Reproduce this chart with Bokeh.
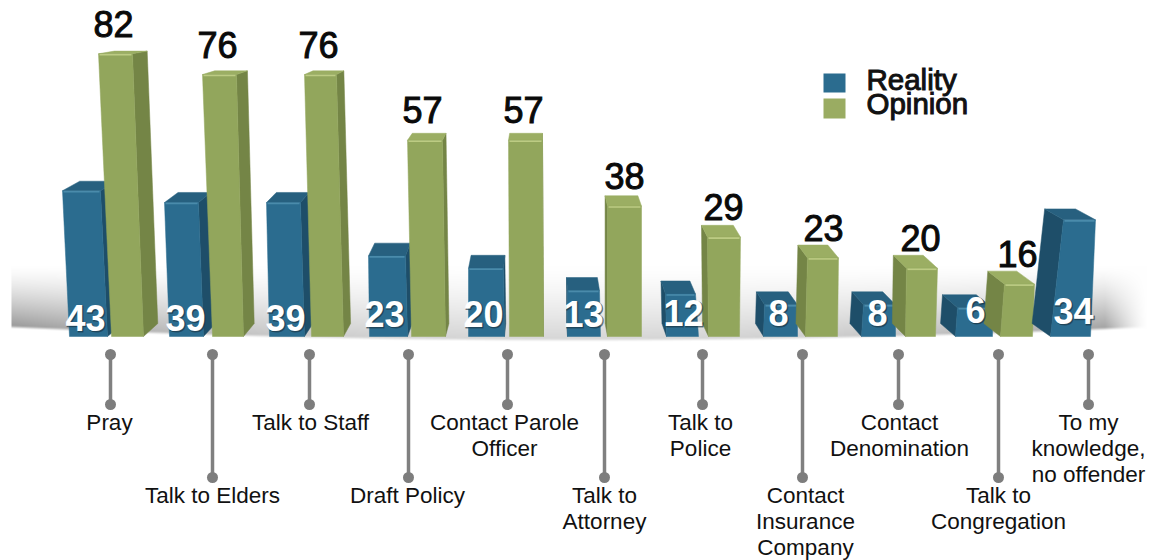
import numpy as np
from bokeh.embed import file_html
from bokeh.models import Range1d
from bokeh.plotting import figure
from bokeh.resources import INLINE
from bokeh.core.properties import value

# ---------- data ----------
categories = [
    ["Pray"], ["Talk to Elders"], ["Talk to Staff"], ["Draft Policy"],
    ["Contact Parole", "Officer"], ["Talk to", "Attorney"], ["Talk to", "Police"],
    ["Contact", "Insurance", "Company"], ["Contact", "Denomination"],
    ["Talk to", "Congregation"], ["To my", "knowledge,", "no offender"],
]
reality = [43, 39, 39, 23, 20, 13, 12, 8, 8, 6, 34]
opinion = [82, 76, 76, 57, 57, 38, 29, 23, 20, 16]
series_names = ["Reality", "Opinion"]

# ---------- layout (image pixels) ----------
W, H = 1152, 560
BASE, PER_UNIT = 337.0, 3.46
VP_X, CX, CY, DY_MAX = 540.0, 0.036, 0.05, 13.0
BOTTOM = 336.0
SHIFT = 0.39  # the text baseline sits this many em lower than asked for

blue_tl = [62, 164, 266, 368, 468, 567, 665, 764, 863, 957, 1063]
blue_tr = [100, 198, 300, 405, 503, 599, 695, 797, 895, 992, 1095]
blue_bl = [69, 169, 269, 369, 468, 567, 666, 763, 861, 955, 1050]
blue_br = [107, 203, 304, 407, 504, 600, 698, 797, 895, 992, 1090]
blue_lift = [-2, 0, 0, 2, 0, 2, 2, 5, 5, 9, 0]
green_tl = [98, 202, 304, 407, 508, 607, 707, 807, 906, 1004]
green_tr = [132, 236, 336, 442, 542, 641, 740, 838, 937, 1034]
green_bl = [111, 212, 311, 411, 509, 607, 708, 805, 905, 1000]
green_br = [143, 243, 343, 445, 543, 641, 739, 837, 935, 1032]
green_lift = [0, 0, 0, 0, 0, 0, 0, 0, 0, -2]

stem_x = [110, 212, 309, 408, 507, 604, 702, 802, 898, 998, 1088]
stem_long = [0, 1, 0, 1, 0, 1, 0, 1, 0, 1, 0]
label_x = [109, 212, 310, 407, 504, 604, 700, 805, 899, 998, 1088]
white_x = [85, 185, 285, 384, 483, 583, 683, 778, 877, 975, 1073]
white_base = [332, 332, 332, 328, 328, 328, 327, 327, 327, 324, 325]
green_x = [113, 217, 318, 422, 523, 624, 723, 823, 920, 1017]

BLUE = dict(front="#2b6c8f", side="#1e4e69", top="#27607f", hi="#4a8bab")
GREEN = dict(front="#92a65c", side="#748546", top="#9bae63", hi="#bccb83")
FONT = value("Liberation Sans")


def val(py):
    return (BASE - py) / PER_UNIT


def py_of(v):
    return BASE - v * PER_UNIT


p = figure(width=W, height=H, output_backend="svg", toolbar_location=None,
           x_range=Range1d(0, W), y_range=Range1d(val(H), val(0)),
           min_border=0, background_fill_color="white", border_fill_color="white")
p.axis.visible = False
p.grid.visible = False
p.outline_line_color = None

# ---------- floor shadow ----------
sx0, sx1, sy0, sy1 = 11, 1146, 262, 345
xx, yy = np.meshgrid(np.arange(sx0, sx1), np.arange(sy1, sy0, -1))
bot = 340 - 13 * ((xx - 578) / 567.0) ** 2
t = np.clip((yy - 266) / (bot - 266), 0, 1)
edge = np.abs(xx - 578) / 567.0
strength = 0.16 + 0.24 * edge ** 2.2
fade = np.clip((1146 - xx) / 42.0, 0, 1) ** 1.4
cut = np.clip((bot + 1.5 - yy) / 3.0, 0, 1)
dark = strength * t ** 1.4 * fade * cut
grey = (255 * (1 - dark)).astype(np.uint32)
img = (255 << 24) | (grey << 16) | (grey << 8) | grey
p.image_rgba(image=[img.astype(np.uint32)], x=sx0, y=val(sy1), dw=sx1 - sx0, dh=val(sy0) - val(sy1))


# ---------- 3D bars ----------
def back(x, y):
    return x + (VP_X - x) * CX, y - min(y * CY, DY_MAX)


def draw_bar(v, lift, tl, tr, bl, br, c):
    ytop = py_of(v) - lift
    xs, ys, colors = [], [], []

    def add(pts, col):
        xs.append([q[0] for q in pts])
        ys.append([val(q[1]) for q in pts])
        colors.append(col)

    if (tl + tr) / 2 < VP_X:
        add([(tr, ytop), back(tr, ytop), back(br, BOTTOM), (br, BOTTOM)], c["side"])
    else:
        add([(tl, ytop), back(tl, ytop), back(bl, BOTTOM), (bl, BOTTOM)], c["side"])
    add([(tl, ytop), (tr, ytop), back(tr, ytop), back(tl, ytop)], c["top"])
    add([(tl, ytop), (tr, ytop), (br, BOTTOM), (bl, BOTTOM)], c["front"])
    p.patches(xs, ys, fill_color=colors, line_color=colors, line_width=0.5)
    p.segment(tl + 1, val(ytop + 1), tr - 1, val(ytop + 1), line_color=c["hi"], line_width=1.6)


for i in range(len(reality)):
    draw_bar(reality[i], blue_lift[i], blue_tl[i], blue_tr[i], blue_bl[i], blue_br[i], BLUE)
    if i < len(opinion):
        draw_bar(opinion[i], green_lift[i], green_tl[i], green_tr[i], green_bl[i], green_br[i], GREEN)

# ---------- value labels ----------
p.text(green_x, [v + (18.5 + green_lift[i]) / PER_UNIT for i, v in enumerate(opinion)],
       text=[str(v) for v in opinion], text_font=FONT, text_font_size="36px",
       text_color="#0a0a0a", text_align="center", text_baseline="alphabetic",
       text_outline_color="#0a0a0a", y_offset=2.5 - 36 * SHIFT)
white_y = [val(b) for b in white_base]
p.text(white_x, white_y, text=[str(v) for v in reality], text_font=FONT,
       text_font_size="36px", text_font_style="bold", text_color="#1b3442", text_alpha=0.55,
       text_align="center", text_baseline="alphabetic", x_offset=1, y_offset=1 - 36 * SHIFT,
       text_outline_color="#1b3442")
p.text(white_x, white_y, text=[str(v) for v in reality], text_font=FONT,
       text_font_size="36px", text_font_style="bold", text_color="white",
       text_align="center", text_baseline="alphabetic", y_offset=-36 * SHIFT)

# ---------- stems ----------
Y_TOP, Y_SHORT, Y_LONG = 354, 404, 477
y_end = [Y_LONG if s else Y_SHORT for s in stem_long]
p.segment(stem_x, val(Y_TOP), stem_x, [val(y) for y in y_end], line_color="#808080", line_width=3.5)
p.scatter(stem_x, val(Y_TOP), size=11, fill_color="#7d7d7d", line_color=None)
p.scatter(stem_x, [val(y) for y in y_end], size=11, fill_color="#7d7d7d", line_color=None)

# ---------- category labels ----------
lx, ly, lt = [], [], []
for i, lines in enumerate(categories):
    first = 503 if stem_long[i] else 430
    for j, line in enumerate(lines):
        lx.append(label_x[i])
        ly.append(val(first + j * 26))
        lt.append(line)
p.text(lx, ly, text=lt, text_font=FONT, text_font_size="22.5px", text_color="#111111",
       text_align="center", text_baseline="alphabetic", y_offset=1 - 22.5 * SHIFT)

# ---------- legend ----------
p.quad(left=[823, 823], right=[845, 845], top=[val(73), val(98)], bottom=[val(92), val(118)],
       fill_color=[BLUE["front"], "#9aac62"], line_color=None)
p.text([866, 866], [val(89), val(113)], text=series_names, text_font=FONT, text_font_size="29.5px",
       text_color="#111111", text_align="left", text_baseline="alphabetic",
       text_outline_color="#111111", y_offset=2 - 29.5 * SHIFT)

open("out.html", "w").write(file_html(p, INLINE))
